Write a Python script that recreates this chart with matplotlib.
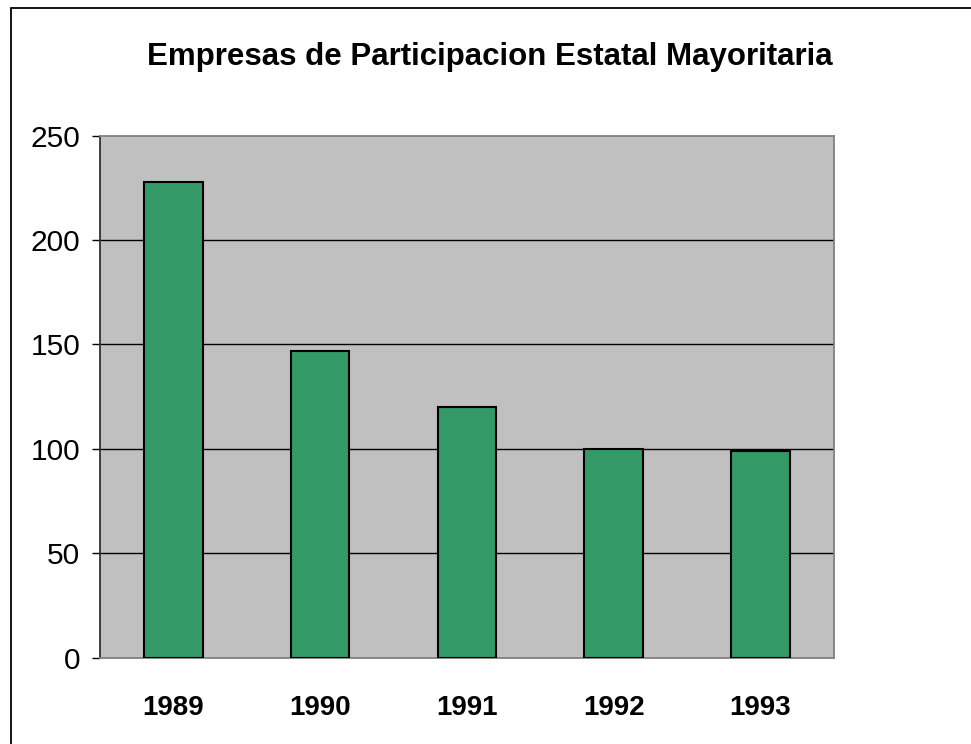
import matplotlib.pyplot as plt
from matplotlib.patches import Rectangle

# data
years = ["1989", "1990", "1991", "1992", "1993"]
empresas = [228, 147, 120, 100, 99]
yticks = [0, 50, 100, 150, 200, 250]

plt.rcParams['font.family'] = ['Liberation Sans', 'DejaVu Sans']

fig = plt.figure(figsize=(9.71, 7.44), dpi=100)
ax = fig.add_axes([100 / 971, 1 - 657.7 / 744, 733.7 / 971, 522 / 744])

ax.set_facecolor("#C0C0C0")
x = range(len(years))
ax.bar(x, empresas, width=0.40, color="#339966", edgecolor="black", linewidth=1.5, zorder=3)

ax.set_xlim(-0.5, len(years) - 0.5)
ax.set_ylim(0, 250)
ax.set_yticks(yticks)
ax.set_yticklabels([str(v) for v in yticks], fontsize=21.5)
ax.set_xticks(list(x))
ax.set_xticklabels(years, fontsize=20, fontweight="bold")
ax.tick_params(axis="x", length=0, pad=27)
ax.tick_params(axis="y", length=5.8, width=1, pad=8.6, direction="out")

# black horizontal gridlines
for v in yticks[1:-1]:
    ax.axhline(v, color="black", linewidth=1, zorder=2)

for side in ["top", "right", "bottom"]:
    ax.spines[side].set_color("#808080")
    ax.spines[side].set_linewidth(1.3)
ax.spines["left"].set_color("#303030")
ax.spines["left"].set_linewidth(1.3)

fig.text(490 / 971, 1 - 57 / 744, "Empresas de Participacion Estatal Mayoritaria",
         ha="center", va="center", fontsize=22.5, fontweight="bold")

# outer chart border (runs off the right and bottom edges)
fig.patches.append(Rectangle((10.5 / 971, -0.05), 1.1, 1 - 7.5 / 744 + 0.05,
                             transform=fig.transFigure, fill=False,
                             edgecolor="black", linewidth=1.3))

plt.savefig("out.png", dpi=100)
